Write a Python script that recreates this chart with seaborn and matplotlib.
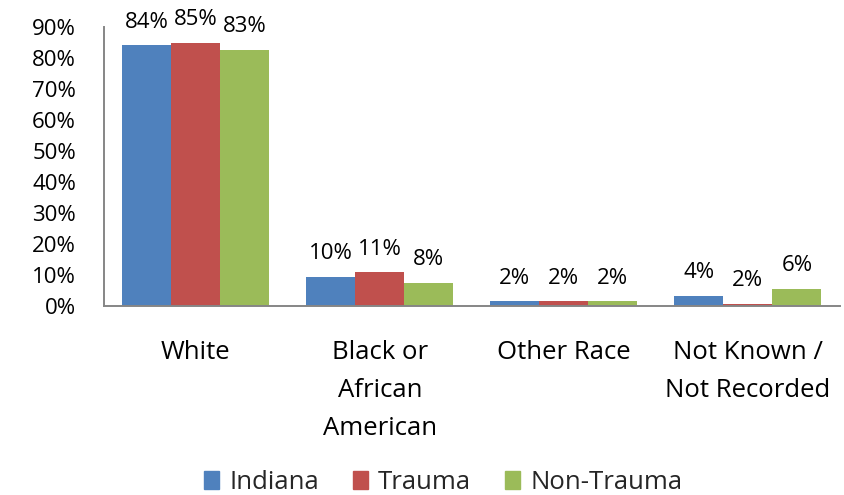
import pandas as pd
import matplotlib
matplotlib.use("Agg")
import matplotlib.pyplot as plt
import seaborn as sns
from matplotlib.ticker import PercentFormatter

# --- data ---
categories = ["White", "Black or\nAfrican\nAmerican", "Other Race", "Not Known /\nNot Recorded"]
series = ["Indiana", "Trauma", "Non-Trauma"]
indiana = [0.842, 0.096, 0.017, 0.035]
trauma = [0.850, 0.110, 0.017, 0.009]
non_trauma = [0.828, 0.076, 0.017, 0.057]
indiana_labels = ["84%", "10%", "2%", "4%"]
trauma_labels = ["85%", "11%", "2%", "2%"]
non_trauma_labels = ["83%", "8%", "2%", "6%"]

colors = ["#4F81BD", "#C0504D", "#9BBB59"]

rows = []
for name, vals in zip(series, [indiana, trauma, non_trauma]):
    for cat, v in zip(categories, vals):
        rows.append({"category": cat, "series": name, "value": v})
df = pd.DataFrame(rows)

sns.set_theme(style="white")
plt.rcParams["font.family"] = ["Open Sans", "DejaVu Sans"]

fig = plt.figure(figsize=(8.44, 4.95), dpi=100)
ax = fig.add_axes([0.123, 0.381, 0.872, 0.564])

sns.barplot(data=df, x="category", y="value", hue="series", order=categories,
            hue_order=series, palette=colors, saturation=1, width=0.8,
            linewidth=0, ax=ax)

# data labels above bars
for cont, labs in zip(ax.containers, [indiana_labels, trauma_labels, non_trauma_labels]):
    ax.bar_label(cont, labels=labs, padding=9, fontsize=16, color="#000000")

ax.set_xlim(-0.5, 3.5)
ax.set_ylim(0, 0.9)
ax.set_yticks([i / 10 for i in range(10)])
ax.yaxis.set_major_formatter(PercentFormatter(1.0, decimals=0))
ax.set_xlabel("")
ax.set_ylabel("")

for lab in ax.get_xticklabels():
    lab.set_linespacing(1.68)
ax.tick_params(axis="y", length=0, pad=20, labelsize=16, labelcolor="#000000")
ax.tick_params(axis="x", length=0, pad=24, labelsize=18.5, labelcolor="#000000")

for side in ["top", "right"]:
    ax.spines[side].set_visible(False)
for side in ["left", "bottom"]:
    ax.spines[side].set_color("#868686")
    ax.spines[side].set_linewidth(1.4)

ax.legend_.remove()
handles = [plt.Rectangle((0, 0), 1, 1, color=c) for c in colors]
fig.legend(handles, series, loc="center", bbox_to_anchor=(0.525, 0.025), ncol=3,
           frameon=False, fontsize=18.5, handlelength=0.6, handleheight=0.68,
           handletextpad=0.4, columnspacing=1.3)

plt.savefig("out.png", dpi=100)
